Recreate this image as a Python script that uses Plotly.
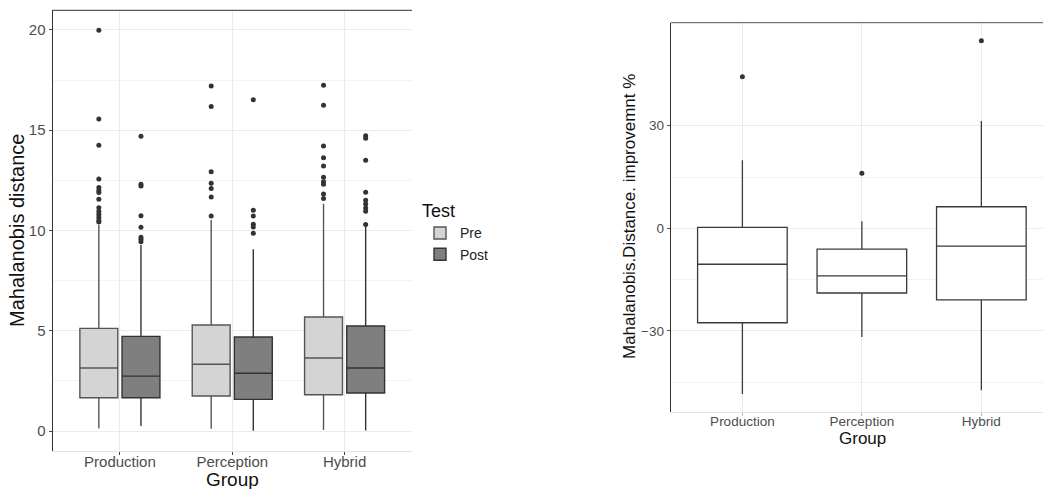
import plotly.graph_objects as go

# ---------------- data ----------------
groups = ["Production", "Perception", "Hybrid"]
tests = ["Pre", "Post"]

pre_q1 = [1.66, 1.75, 1.81]
pre_median = [3.14, 3.33, 3.64]
pre_q3 = [5.12, 5.29, 5.69]
pre_low = [0.13, 0.12, 0.05]
pre_high = [10.27, 10.52, 11.34]
pre_outliers = [
    [19.98, 15.56, 14.25, 12.57, 12.15, 11.99, 11.9, 11.56, 11.14, 10.95, 10.8, 10.65, 10.5, 10.42],
    [17.21, 16.18, 12.93, 12.35, 12.09, 11.67, 10.72],
    [17.24, 16.24, 14.21, 13.63, 13.22, 12.65, 12.43, 12.30, 11.82, 11.6],
]

post_q1 = [1.66, 1.58, 1.90]
post_median = [2.74, 2.88, 3.14]
post_q3 = [4.72, 4.69, 5.24]
post_low = [0.25, 0.02, 0.03]
post_high = [9.28, 9.06, 10.2]
post_outliers = [
    [14.70, 12.30, 12.22, 10.74, 10.16, 9.66, 9.56, 9.44],
    [16.52, 11.01, 10.72, 10.31, 10.17, 9.86],
    [14.73, 14.60, 13.50, 11.91, 11.51, 11.32, 11.12, 10.96, 10.30],
]

imp_q1 = [-27.6, -18.9, -20.9]
imp_median = [-10.5, -13.9, -5.2]
imp_q3 = [0.3, -6.1, 6.3]
imp_low = [-48.4, -31.8, -47.3]
imp_high = [19.9, 2.1, 31.4]
imp_outliers = [[44.3], [16.1], [54.8]]

left_yticks = [0, 5, 10, 15, 20]
left_yminor = [2.5, 7.5, 12.5, 17.5]
right_yticks = [-30, 0, 30]
right_yminor = [-45, -15, 15]

# ---------------- styling ----------------
FONT = "Liberation Sans, Arial, sans-serif"
TICK_COL = "#4d4d4d"
GRID = "#ebebeb"
MINOR = "#f3f3f3"
W, H = 1043, 489

pos = [i + 1 for i in range(len(groups))]
dodge = 0.1875
bw = 0.3375

fig = go.Figure()

series = [
    ("Pre", -dodge, pre_q1, pre_median, pre_q3, pre_low, pre_high, pre_outliers, "#d4d4d4", "#555555"),
    ("Post", dodge, post_q1, post_median, post_q3, post_low, post_high, post_outliers, "#7f7f7f", "#333333"),
]
for name, off, q1, med, q3, lo, hi, outs, fill, line in series:
    xs = [p + off for p in pos]
    fig.add_trace(go.Box(
        name=name, x=xs, q1=q1, median=med, q3=q3, lowerfence=lo, upperfence=hi,
        width=bw, fillcolor=fill, line=dict(color=line, width=1.4),
        boxpoints=False, whiskerwidth=0, xaxis="x", yaxis="y", showlegend=True,
    ))
    ox, oy = [], []
    for x, vals in zip(xs, outs):
        for v in vals:
            ox.append(x)
            oy.append(v)
    fig.add_trace(go.Scatter(
        x=ox, y=oy, mode="markers", marker=dict(color="#333333", size=5),
        xaxis="x", yaxis="y", showlegend=False, hoverinfo="y",
    ))

fig.add_trace(go.Box(
    name="improvement", x=pos, q1=imp_q1, median=imp_median, q3=imp_q3,
    lowerfence=imp_low, upperfence=imp_high, width=0.75,
    fillcolor="white", line=dict(color="#3a3a3a", width=1.3),
    boxpoints=False, whiskerwidth=0, xaxis="x2", yaxis="y2", showlegend=False,
))
ox, oy = [], []
for x, vals in zip(pos, imp_outliers):
    for v in vals:
        ox.append(x)
        oy.append(v)
fig.add_trace(go.Scatter(
    x=ox, y=oy, mode="markers", marker=dict(color="#333333", size=5),
    xaxis="x2", yaxis="y2", showlegend=False, hoverinfo="y",
))

# domains (from pixel geometry)
L = dict(x0=52.5, x1=412.0, y0=10.3, y1=450.7)
R = dict(x0=670.7, x1=1043.0, y0=22.7, y1=411.7)

def xd(d):
    return [d["x0"] / W, d["x1"] / W]

def yd(d):
    return [1 - d["y1"] / H, 1 - d["y0"] / H]

common_x = dict(
    showgrid=True, gridcolor=GRID, gridwidth=1, zeroline=False,
    ticks="outside", ticklen=3, showline=True, linecolor="#e3e3e3", linewidth=1,
    ticklabelstandoff=-6,
)

fig.update_layout(
    width=W, height=H, margin=dict(l=0, r=0, t=0, b=0),
    paper_bgcolor="white", plot_bgcolor="white",
    font=dict(family=FONT, color="#222"),
    boxmode="overlay",
    xaxis=dict(
        domain=xd(L), range=[0.4, 3.6], anchor="y", tickvals=pos, ticktext=groups,
        tickfont=dict(size=15, color=TICK_COL), tickcolor="#444", **common_x,
    ),
    yaxis=dict(
        domain=yd(L), range=[-0.98, 20.98], anchor="x", tickvals=left_yticks,
        tickfont=dict(size=15, color=TICK_COL), showgrid=True, gridcolor=GRID,
        zeroline=False, ticks="outside", ticklen=3, tickcolor="#444",
        showline=True, linecolor="#333", linewidth=1,
        minor=dict(tickvals=left_yminor, showgrid=True, gridcolor=MINOR, ticks=""),
    ),
    xaxis2=dict(
        domain=xd(R), range=[0.4, 3.516], anchor="y2", tickvals=pos, ticktext=groups,
        tickfont=dict(size=13.5, color=TICK_COL), tickcolor="#bbbbbb", **common_x,
    ),
    yaxis2=dict(
        domain=yd(R), range=[-53.6, 60.1], anchor="x2", tickvals=right_yticks,
        tickfont=dict(size=13.5, color=TICK_COL), showgrid=True, gridcolor=GRID,
        zeroline=False, ticks="outside", ticklen=3, tickcolor="#555",
        showline=True, linecolor="#333", linewidth=1,
        minor=dict(tickvals=right_yminor, showgrid=True, gridcolor=MINOR, ticks=""),
    ),
    legend=dict(
        x=420 / W, y=1 - 194 / H, xanchor="left", yanchor="top",
        title=dict(text="Test", font=dict(size=18, color="#111")),
        font=dict(size=14, color="#222"), bgcolor="rgba(0,0,0,0)",
        tracegroupgap=0,
    ),
    shapes=[
        dict(type="line", xref="x domain", yref="y domain", x0=0, x1=1, y0=1, y1=1,
             line=dict(color="#333", width=1)),
        dict(type="line", xref="x2 domain", yref="y2 domain", x0=0, x1=1, y0=1, y1=1,
             line=dict(color="#555", width=1)),
    ],
    annotations=[
        dict(text="Mahalanobis distance", x=17 / W, y=1 - 231 / H, xref="paper", yref="paper",
             textangle=-90, showarrow=False, font=dict(size=20, color="#111"),
             xanchor="center", yanchor="middle"),
        dict(text="Group", x=(L["x0"] + L["x1"]) / 2 / W, y=1 - 479 / H, xref="paper", yref="paper",
             showarrow=False, font=dict(size=19, color="#111"), xanchor="center", yanchor="middle"),
        dict(text="Mahalanobis.Distance. improvemnt %", x=630 / W, y=1 - 217 / H,
             xref="paper", yref="paper", textangle=-90, showarrow=False,
             font=dict(size=17, color="#111"), xanchor="center", yanchor="middle"),
        dict(text="Group", x=862 / W, y=1 - 438 / H, xref="paper", yref="paper",
             showarrow=False, font=dict(size=17, color="#111"), xanchor="center", yanchor="middle"),
    ],
)

fig.write_html("out.html")
